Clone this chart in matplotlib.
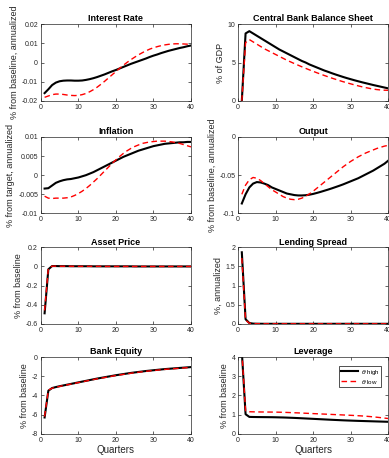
import numpy as np
import matplotlib
matplotlib.use("Agg")
import matplotlib.pyplot as plt
from matplotlib.ticker import FuncFormatter

plt.rcParams['font.family'] = ['Liberation Sans', 'DejaVu Sans']

quarters = list(range(1, 41))

# Interest Rate
rate_high = [-0.0160, -0.0140, -0.0118, -0.0105, -0.0098, -0.0095, -0.0094, -0.0094, -0.0095, -0.0095,
             -0.0094, -0.0091, -0.0087, -0.0082, -0.0076, -0.0069, -0.0062, -0.0054, -0.0046, -0.0039,
             -0.0031, -0.0023, -0.0015, -0.0007, 0.0000, 0.0007, 0.0014, 0.0021, 0.0029, 0.0036,
             0.0042, 0.0049, 0.0055, 0.0061, 0.0066, 0.0071, 0.0076, 0.0080, 0.0085, 0.0089]
rate_low = [-0.0182, -0.0175, -0.0168, -0.0165, -0.0165, -0.0167, -0.0170, -0.0172, -0.0173, -0.0172,
            -0.0168, -0.0162, -0.0153, -0.0142, -0.0129, -0.0114, -0.0098, -0.0081, -0.0064, -0.0047,
            -0.0030, -0.0014, 0.0001, 0.0015, 0.0028, 0.0040, 0.0051, 0.0061, 0.0070, 0.0077,
            0.0083, 0.0088, 0.0092, 0.0095, 0.0097, 0.0098, 0.0098, 0.0097, 0.0096, 0.0094]

# Central Bank Balance Sheet
cb_high = [0.0, 8.8, 9.1, 8.8, 8.5, 8.2, 7.9, 7.6, 7.3, 7.0,
           6.7, 6.45, 6.2, 5.95, 5.7, 5.45, 5.2, 5.0, 4.75, 4.55,
           4.35, 4.15, 3.95, 3.78, 3.6, 3.43, 3.27, 3.11, 2.96, 2.82,
           2.68, 2.55, 2.42, 2.3, 2.18, 2.06, 1.95, 1.84, 1.73, 1.62]
cb_low = [0.0, 7.6, 8.0, 7.7, 7.4, 7.1, 6.8, 6.55, 6.3, 6.05,
          5.8, 5.55, 5.3, 5.08, 4.86, 4.65, 4.44, 4.24, 4.04, 3.85,
          3.66, 3.48, 3.3, 3.13, 2.96, 2.8, 2.64, 2.49, 2.35, 2.21,
          2.08, 1.95, 1.83, 1.72, 1.62, 1.53, 1.46, 1.41, 1.38, 1.37]

# Inflation
infl_high = [-0.0035, -0.0034, -0.0027, -0.0020, -0.0016, -0.0013, -0.0011, -0.0010, -0.0008, -0.0006,
             -0.0003, 0.0000, 0.0004, 0.0008, 0.0013, 0.0018, 0.0023, 0.0028, 0.0033, 0.0038,
             0.0043, 0.0048, 0.0052, 0.0056, 0.0060, 0.0064, 0.0067, 0.0070, 0.0073, 0.0076,
             0.0078, 0.0080, 0.0082, 0.0083, 0.0084, 0.0085, 0.0086, 0.0086, 0.0087, 0.0087]
infl_low = [-0.0055, -0.0060, -0.0061, -0.0060, -0.0060, -0.0060, -0.0059, -0.0057, -0.0053, -0.0048,
            -0.0042, -0.0035, -0.0027, -0.0018, -0.0009, 0.0001, 0.0011, 0.0021, 0.0031, 0.0040,
            0.0049, 0.0057, 0.0064, 0.0070, 0.0075, 0.0079, 0.0083, 0.0085, 0.0087, 0.0088,
            0.0089, 0.0089, 0.0089, 0.0088, 0.0087, 0.0085, 0.0083, 0.0080, 0.0077, 0.0074]

# Output
out_high = [-0.087, -0.075, -0.066, -0.061, -0.059, -0.0595, -0.061, -0.063, -0.066, -0.068,
            -0.070, -0.072, -0.074, -0.075, -0.076, -0.0765, -0.0765, -0.0762, -0.0755, -0.0745,
            -0.0732, -0.0718, -0.0703, -0.0688, -0.0672, -0.0655, -0.0638, -0.062, -0.060, -0.058,
            -0.056, -0.054, -0.0515, -0.049, -0.0465, -0.044, -0.041, -0.038, -0.035, -0.031]
out_low = [-0.075, -0.063, -0.056, -0.053, -0.054, -0.057, -0.061, -0.065, -0.069, -0.072,
           -0.075, -0.078, -0.080, -0.0815, -0.082, -0.0815, -0.080, -0.0775, -0.0745, -0.071,
           -0.067, -0.063, -0.059, -0.055, -0.051, -0.047, -0.043, -0.039, -0.0355, -0.032,
           -0.029, -0.026, -0.0235, -0.021, -0.019, -0.017, -0.015, -0.0135, -0.012, -0.011]

# Asset Price
asset_high = [-0.49, -0.03, 0.004, 0.004, 0.003, 0.003, 0.003, 0.002, 0.002, 0.002,
              0.002, 0.002, 0.002, 0.001, 0.001, 0.001, 0.001, 0.001, 0.001, 0.001,
              0.001, 0.001, 0.001, 0.001, 0.0, 0.0, 0.0, 0.0, 0.0, 0.0,
              0.0, 0.0, 0.0, 0.0, 0.0, 0.0, 0.0, 0.0, 0.0, 0.0]
asset_low = [-0.46, -0.02, 0.003, 0.003, 0.002, 0.002, 0.002, 0.002, 0.001, 0.001,
             0.001, 0.001, 0.001, 0.001, 0.001, 0.001, 0.0, 0.0, 0.0, 0.0,
             0.0, 0.0, 0.0, 0.0, 0.0, 0.0, 0.0, 0.0, 0.0, 0.0,
             0.0, 0.0, 0.0, 0.0, 0.0, 0.0, 0.0, 0.0, 0.0, 0.0]

# Lending Spread
spread_high = [1.87, 0.12, 0.02, 0.005, 0.002, 0.001, 0.0, 0.0, 0.0, 0.0,
               0.0, 0.0, 0.0, 0.0, 0.0, 0.0, 0.0, 0.0, 0.0, 0.0,
               0.0, 0.0, 0.0, 0.0, 0.0, 0.0, 0.0, 0.0, 0.0, 0.0,
               0.0, 0.0, 0.0, 0.0, 0.0, 0.0, 0.0, 0.0, 0.0, 0.0]
spread_low = [1.72, 0.10, 0.015, 0.004, 0.002, 0.001, 0.0, 0.0, 0.0, 0.0,
              0.0, 0.0, 0.0, 0.0, 0.0, 0.0, 0.0, 0.0, 0.0, 0.0,
              0.0, 0.0, 0.0, 0.0, 0.0, 0.0, 0.0, 0.0, 0.0, 0.0,
              0.0, 0.0, 0.0, 0.0, 0.0, 0.0, 0.0, 0.0, 0.0, 0.0]

# Bank Equity
equity_high = [-6.3, -3.5, -3.22, -3.12, -3.03, -2.95, -2.87, -2.79, -2.71, -2.63,
               -2.55, -2.47, -2.39, -2.31, -2.23, -2.16, -2.09, -2.02, -1.95, -1.88,
               -1.82, -1.76, -1.70, -1.64, -1.59, -1.54, -1.49, -1.44, -1.40, -1.36,
               -1.32, -1.28, -1.24, -1.21, -1.18, -1.15, -1.12, -1.09, -1.06, -1.03]
equity_low = [-6.2, -3.45, -3.24, -3.14, -3.05, -2.97, -2.89, -2.81, -2.73, -2.65,
              -2.57, -2.49, -2.41, -2.33, -2.26, -2.19, -2.12, -2.05, -1.98, -1.91,
              -1.85, -1.79, -1.73, -1.67, -1.62, -1.57, -1.52, -1.47, -1.43, -1.39,
              -1.35, -1.31, -1.27, -1.24, -1.21, -1.18, -1.15, -1.12, -1.09, -1.07]

# Leverage
lev_high = [4.3, 1.02, 0.88, 0.875, 0.872, 0.87, 0.868, 0.866, 0.864, 0.86,
            0.855, 0.85, 0.843, 0.835, 0.827, 0.818, 0.808, 0.798, 0.788, 0.778,
            0.768, 0.758, 0.748, 0.738, 0.728, 0.719, 0.71, 0.701, 0.693, 0.686,
            0.679, 0.672, 0.666, 0.66, 0.654, 0.648, 0.642, 0.636, 0.63, 0.624]
lev_low = [4.3, 1.2, 1.15, 1.145, 1.14, 1.138, 1.136, 1.134, 1.132, 1.13,
           1.125, 1.12, 1.113, 1.105, 1.097, 1.089, 1.08, 1.071, 1.062, 1.053,
           1.044, 1.035, 1.026, 1.017, 1.008, 0.999, 0.99, 0.981, 0.972, 0.963,
           0.953, 0.942, 0.93, 0.916, 0.9, 0.882, 0.862, 0.84, 0.818, 0.796]

panels = [
    ("Interest Rate", rate_high, rate_low, (-0.02, 0.02), [-0.02, -0.01, 0, 0.01, 0.02], "% from baseline, annualized"),
    ("Central Bank Balance Sheet", cb_high, cb_low, (0, 10), [0, 5, 10], "% of GDP"),
    ("Inflation", infl_high, infl_low, (-0.01, 0.01), [-0.01, -0.005, 0, 0.005, 0.01], "% from target, annualized"),
    ("Output", out_high, out_low, (-0.1, 0), [-0.1, -0.05, 0], "% from baseline, annualized"),
    ("Asset Price", asset_high, asset_low, (-0.6, 0.2), [-0.6, -0.4, -0.2, 0, 0.2], "% from baseline"),
    ("Lending Spread", spread_high, spread_low, (0, 2), [0, 0.5, 1, 1.5, 2], "%, annualized"),
    ("Bank Equity", equity_high, equity_low, (-8, 0), [-8, -6, -4, -2, 0], "% from baseline"),
    ("Leverage", lev_high, lev_low, (0, 4), [0, 1, 2, 3, 4], "% from baseline"),
]

fig = plt.figure(figsize=(3.89, 4.58), dpi=100)
lefts = [0.105, 0.612]
bottoms = [0.780, 0.534, 0.293, 0.053]
w, h = 0.386, 0.167

fmt = FuncFormatter(lambda v, p: ("%g" % round(v, 6)))

for i, (title, hi, lo, ylim, yticks, ylab) in enumerate(panels):
    r, c = divmod(i, 2)
    ax = fig.add_axes([lefts[c], bottoms[r], w, h])
    ax.plot(quarters, hi, color='black', lw=1.5, label=r'$\theta$ high')
    ax.plot(quarters, lo, color='red', lw=1.0, ls=(0, (4, 2.5)), label=r'$\theta$ low')
    ax.set_xlim(0, 40)
    ax.set_ylim(*ylim)
    ax.set_xticks([0, 10, 20, 30, 40])
    ax.set_yticks(yticks)
    ax.yaxis.set_major_formatter(fmt)
    ax.tick_params(direction='in', top=True, right=True, length=2, width=0.5,
                   labelsize=5, colors='#262626', pad=2)
    for s in ax.spines.values():
        s.set_linewidth(0.5)
        s.set_color('#262626')
    ax.set_title(title, fontsize=6.5, fontweight='bold', pad=2)
    ax.set_ylabel(ylab, fontsize=6.5, color='#262626', labelpad=2)
    if r == 3:
        ax.set_xlabel("Quarters", fontsize=7, color='#262626', labelpad=1)
    if title == "Leverage":
        leg = ax.legend(loc='upper right', fontsize=4.5, frameon=True, fancybox=False,
                        edgecolor='black', handlelength=2.8, borderpad=0.3,
                        labelspacing=0.15, handletextpad=0.4,
                        bbox_to_anchor=(0.975, 0.93))
        leg.get_frame().set_linewidth(0.6)

fig.savefig("out.png", dpi=100)
